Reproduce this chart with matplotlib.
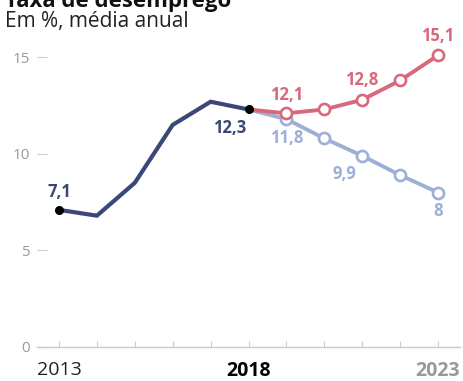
import matplotlib
matplotlib.use("Agg")
import matplotlib.pyplot as plt

years_hist = [2013, 2014, 2015, 2016, 2017, 2018]
vals_hist = [7.1, 6.8, 8.5, 11.5, 12.7, 12.3]
years_proj = [2018, 2019, 2020, 2021, 2022, 2023]
vals_red = [12.3, 12.1, 12.3, 12.8, 13.8, 15.1]
vals_blue = [12.3, 11.8, 10.8, 9.9, 8.9, 8.0]
yticks = [0, 5, 10, 15]
xlabels = ["2013", "2018", "2023"]

dark = "#3b4877"
red = "#d9687b"
blue = "#9cafd5"

plt.rcParams['font.family'] = ['Open Sans', 'DejaVu Sans']

fig = plt.figure(figsize=(4.64, 3.81), dpi=100)
ax = fig.add_axes([37/464, 34/381, 423/464, 309/381])
ax.set_xlim(2012.42, 2023.58)
ax.set_ylim(0, 16)

ax.plot(years_proj, vals_red, color=red, lw=2.8, marker='o', ms=8,
        mfc='white', mec=red, mew=1.9, markevery=list(range(1, 6)), zorder=3)
ax.plot(years_proj, vals_blue, color=blue, lw=2.8, marker='o', ms=8,
        mfc='white', mec=blue, mew=1.9, markevery=list(range(1, 6)), zorder=2)
ax.plot(years_hist, vals_hist, color=dark, lw=3.0, zorder=4, solid_joinstyle='miter')
ax.plot([years_hist[0], years_hist[-1]], [vals_hist[0], vals_hist[-1]], 'o',
        color='black', ms=5.5, zorder=5)

fs = 12
ax.text(2013, 7.1 + 0.45, "7,1", color=dark, fontsize=fs, fontweight='bold', ha='center', va='bottom')
ax.text(2017.95, 12.3 - 0.5, "12,3", color=dark, fontsize=fs, fontweight='bold', ha='right', va='top')
ax.text(2019, 12.1 + 0.5, "12,1", color=red, fontsize=fs, fontweight='bold', ha='center', va='bottom')
ax.text(2019, 11.8 - 0.5, "11,8", color=blue, fontsize=fs, fontweight='bold', ha='center', va='top')
ax.text(2021, 12.8 + 0.55, "12,8", color=red, fontsize=fs, fontweight='bold', ha='center', va='bottom')
ax.text(2020.85, 9.9 - 0.5, "9,9", color=blue, fontsize=fs, fontweight='bold', ha='right', va='top')
ax.text(2023, 8.0 - 0.5, "8", color=blue, fontsize=fs, fontweight='bold', ha='center', va='top')
ax.text(2023, 15.1 + 0.55, "15,1", color=red, fontsize=fs, fontweight='bold', ha='center', va='bottom')

for s in ['top', 'right', 'left']:
    ax.spines[s].set_visible(False)
ax.spines['bottom'].set_color('#c8c8c8')
ax.spines['bottom'].set_linewidth(1.0)

ax.set_yticks(yticks)
ax.set_yticklabels([str(v) for v in yticks])
ax.tick_params(axis='y', direction='in', length=7, width=0.8, color='#cccccc',
               labelcolor='#9a9a9a', labelsize=11, pad=5)

ax.set_xticks(range(2013, 2024))
ax.set_xticklabels([])
ax.tick_params(axis='x', direction='in', length=4, width=0.8, color='#cccccc')

lab_colors = ['#222222', '#000000', '#999999']
lab_weights = ['normal', 'bold', 'bold']
for yr, lab, c, w in zip([2013, 2018, 2023], xlabels, lab_colors, lab_weights):
    ax.text(yr, -0.7, lab, color=c, fontsize=14, fontweight=w, ha='center', va='top')

fig.text(5/464, 1 - 7/381, "Taxa de desemprego", fontsize=16, fontweight='bold',
         color='#111111', ha='left', va='baseline')
fig.text(5/464, 1 - 27/381, "Em %, média anual", fontsize=15, color='#222222',
         ha='left', va='baseline')

fig.savefig("out.png", dpi=100, facecolor='white')
